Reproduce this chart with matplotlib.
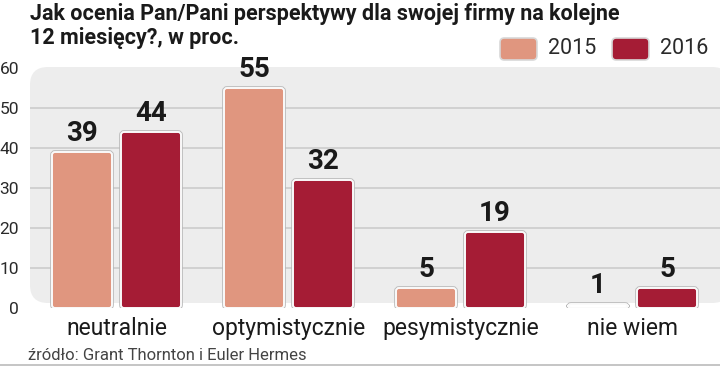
import matplotlib.pyplot as plt
from matplotlib.patches import FancyBboxPatch
from matplotlib.lines import Line2D

categories = ["neutralnie", "optymistycznie", "pesymistycznie", "nie wiem"]
years = ["2015", "2016"]
values_2015 = [39, 55, 5, 1]
values_2016 = [44, 32, 19, 5]
yticks = [0, 10, 20, 30, 40, 50, 60]

title_lines = ["Jak ocenia Pan/Pani perspektywy dla swojej firmy na kolejne",
               "12 miesięcy?, w proc."]
source = "źródło: Grant Thornton i Euler Hermes"

colors = ["#e0967f", "#a51c35"]
W, H = 720, 366

fig = plt.figure(figsize=(W / 100, H / 100), dpi=100)
# axes placed in pixel terms: x 30..720, y(0)=308, y(60)=68
ax = fig.add_axes([30 / W, (H - 308) / H, 690 / W, 240 / H])
ax.set_ylim(0, 60)
ax.set_xlim(-(116.5 - 30) / 172, (720 - 116.5) / 172)
ax.set_facecolor("none")
for s in ax.spines.values():
    s.set_visible(False)

# grey panel behind the axes
panel = FancyBboxPatch((30 / W, (H - 303) / H), 700 / W, 236 / H,
                       boxstyle="round,pad=0,rounding_size=0.025",
                       mutation_aspect=W / H, transform=fig.transFigure,
                       facecolor="#ededed", edgecolor="none", zorder=-5)
fig.patches.append(panel)
for t in yticks[1:-1]:
    ax.axhline(t, color="#cccccc", lw=1.2, zorder=1)

ax.set_yticks(yticks)
ax.tick_params(axis="y", length=0, pad=8, labelsize=12.5, labelcolor="#2a2a2a")
for lab in ax.get_yticklabels():
    lab.set_fontfamily("Roboto")
ax.set_xticks([])

bw = 60 / 172
off = 34.5 / 172
aspect = (60 / 240) / (1 / 172)
r = 3 / 172
for j, vals in enumerate([values_2015, values_2016]):
    for i, v in enumerate(vals):
        x0 = i + (j - 0.5) * 2 * off - bw / 2
        fill = colors[j] if v > 1 else "#ffffff"
        ax.add_patch(FancyBboxPatch((x0, 0), bw, v, boxstyle=f"round,pad=0,rounding_size={r}",
                                    mutation_aspect=aspect, facecolor="none",
                                    edgecolor="#b8b8b8", lw=2.6, zorder=2))
        ax.add_patch(FancyBboxPatch((x0, 0), bw, v, boxstyle=f"round,pad=0,rounding_size={r}",
                                    mutation_aspect=aspect, facecolor=fill,
                                    edgecolor="#fafafa", lw=1.4, zorder=3))
        ax.text(x0 + bw / 2, v + 1.2, str(v), ha="center", va="bottom", fontsize=20,
                fontweight="bold", family="Roboto", color="#1a1a1a", zorder=4)

for i, c in enumerate(categories):
    ax.text(i, -2.2, c, ha="center", va="top", fontsize=16.5, family="Roboto",
            color="#1a1a1a", clip_on=False)

for k, line in enumerate(title_lines):
    fig.text(30 / W, 1 - (3 + 24 * k) / H, line, ha="left", va="top", fontsize=15.5,
             fontweight="bold", family="Roboto", color="#1a1a1a")

# legend
for j, (yr, col) in enumerate(zip(years, colors)):
    lx = [500, 612][j]
    fig.patches.append(FancyBboxPatch((lx / W, (H - 60) / H), 37 / W, 22 / H,
                                      boxstyle="round,pad=0,rounding_size=0.006",
                                      mutation_aspect=W / H, transform=fig.transFigure,
                                      facecolor=col, edgecolor="#d8d8d8", lw=1.2))
    fig.text((lx + 48) / W, (H - 49) / H, yr, ha="left", va="center", fontsize=15.5,
             family="Roboto", color="#2a2a2a")

fig.text(28 / W, (H - 355) / H, source, ha="left", va="center", fontsize=12,
         family="Roboto", color="#444444")
fig.add_artist(Line2D([0, 1], [1 / H, 1 / H], color="#bbbbbb", lw=1.2, transform=fig.transFigure))

plt.savefig("out.png", dpi=100)
